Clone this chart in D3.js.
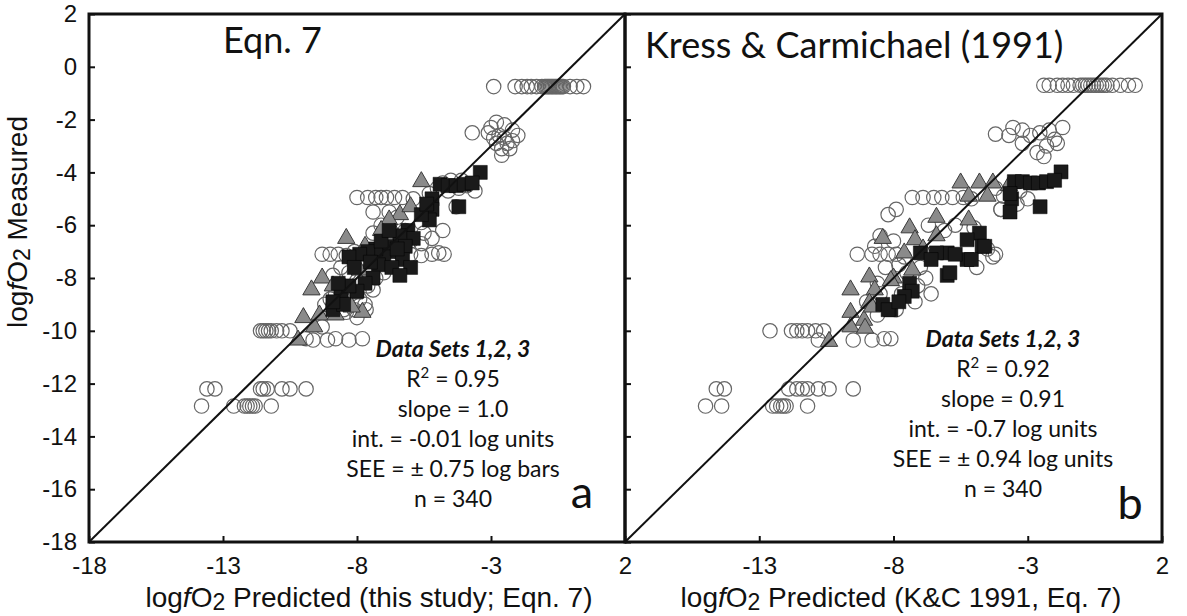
<!DOCTYPE html>
<html>
<head>
<meta charset="utf-8">
<script src="https://cdn.jsdelivr.net/npm/d3@7"></script>
<style>
  body { margin: 0; background: #fff; }
  svg { display: block; }
</style>
</head>
<body>
<svg id="chart" width="1187" height="616"></svg>
<script>

// ---- data: [predicted, measured] (log fO2) ----
const ticksY = [-18, -16, -14, -12, -10, -8, -6, -4, -2, 0, 2];

const circlesA = [
  [-2.9,-0.75],[-2.1,-0.75],[-1.85,-0.75],[-1.65,-0.75],[-1.5,-0.75],[-1.3,-0.75],[-1.1,-0.75],
  [-1.0,-0.75],[-0.95,-0.75],[-0.9,-0.75],[-0.85,-0.75],[-0.8,-0.75],[-0.75,-0.75],[-0.7,-0.75],
  [-0.65,-0.75],[-0.6,-0.75],[-0.55,-0.75],[-0.5,-0.75],[-0.45,-0.75],[-0.4,-0.75],[-0.35,-0.75],
  [-0.3,-0.75],[-0.05,-0.75],[0.2,-0.75],[0.45,-0.75],
  [-3.7,-2.5],[-3.0,-2.3],[-2.8,-2.1],[-2.5,-2.2],[-2.2,-2.4],[-2.0,-2.6],[-2.7,-2.6],[-2.5,-2.7],
  [-2.8,-2.9],[-2.4,-2.9],[-2.6,-3.1],[-2.3,-3.1],[-2.6,-3.35],[-2.9,-2.7],[-2.2,-2.8],[-3.1,-2.5],
  [-4.8,-4.4],[-4.5,-4.3],[-4.2,-4.6],[-3.9,-4.5],[-3.6,-4.7],[-4.6,-4.7],[-5.0,-4.6],[-4.3,-5.3],
  [-5.3,-4.8],[-4.1,-4.3],
  [-8.0,-4.95],[-7.6,-4.95],[-7.3,-4.95],[-7.1,-4.95],[-6.9,-4.95],[-6.6,-4.95],[-6.3,-4.95],[-5.9,-5.0],
  [-7.4,-5.5],[-7.1,-6.0],[-6.5,-5.7],[-7.4,-6.3],[-6.8,-5.5],[-6.2,-6.2],[-5.6,-5.9],[-6.9,-6.5],
  [-6.0,-6.6],[-5.5,-6.3],[-4.8,-6.2],[-5.2,-6.5],[-4.95,-7.05],[-5.6,-6.7],
  [-9.3,-7.1],[-9.0,-7.1],[-8.7,-7.1],[-8.4,-7.15],[-8.1,-7.0],[-6.0,-7.1],[-5.6,-7.15],[-5.2,-7.1],[-4.75,-7.1],
  [-8.6,-7.6],[-8.3,-7.8],[-8.9,-7.9],[-8.0,-8.1],[-7.6,-8.3],[-7.4,-8.45],[-7.3,-8.0],[-8.2,-8.6],
  [-8.5,-8.4],[-8.8,-8.6],[-7.9,-8.8],[-8.0,-9.5],[-8.4,-9.3],[-7.7,-9.0],[-9.0,-8.8],[-7.0,-7.8],
  [-6.8,-7.4],[-7.5,-7.6],[-9.2,-9.0],
  [-8.5,-9.2],[-8.1,-9.2],[-7.66,-9.2],
  [-11.6,-10.0],[-11.5,-10.0],[-11.4,-10.0],[-11.3,-10.0],[-11.2,-10.0],[-11.0,-10.0],[-10.8,-10.0],
  [-10.5,-10.0],[-9.9,-10.3],[-9.64,-10.35],[-9.1,-10.35],[-8.8,-10.3],[-8.3,-10.35],[-7.8,-10.3],[-9.3,-9.85],
  [-13.6,-12.2],[-13.3,-12.2],[-11.6,-12.2],[-11.5,-12.2],[-11.35,-12.2],[-10.8,-12.2],[-10.5,-12.2],[-9.9,-12.2],
  [-13.8,-12.85],[-12.6,-12.85],[-12.2,-12.85],[-12.1,-12.85],[-12.0,-12.85],[-11.9,-12.85],[-11.8,-12.85],[-11.2,-12.85]
];

const trianglesA = [
  [-5.6,-4.35],[-6.4,-5.6],[-6.8,-5.8],[-7.1,-6.2],[-8.4,-6.5],[-7.7,-6.8],[-6.0,-5.3],[-7.9,-7.7],
  [-9.3,-8.0],[-8.9,-8.3],[-9.7,-8.45],[-8.1,-8.6],[-8.5,-8.8],[-10.0,-9.5],[-9.6,-9.85],[-7.8,-9.3],
  [-8.2,-9.1],[-10.2,-10.35],[-9.4,-9.4],[-8.8,-9.4],[-6.6,-6.3],[-7.3,-7.4]
];

const squaresA = [
  [-3.4,-4.0],[-4.9,-4.45],[-4.6,-4.5],[-4.3,-4.5],[-4.0,-4.45],[-3.7,-4.4],[-4.2,-5.3],[-5.2,-5.0],
  [-5.2,-5.4],[-5.3,-5.8],[-6.1,-6.2],[-5.9,-6.5],[-6.4,-6.4],[-6.2,-6.8],[-6.6,-7.0],[-6.9,-6.8],
  [-6.3,-7.3],[-6.0,-7.6],[-7.0,-7.2],[-7.3,-6.9],[-7.6,-7.0],[-7.9,-7.1],[-8.3,-7.2],[-7.2,-7.5],
  [-6.7,-7.6],[-7.4,-8.0],[-7.7,-8.2],[-8.0,-8.5],[-8.6,-8.7],[-8.9,-9.2],[-8.5,-9.0],[-8.9,-8.9],
  [-8.3,-8.3],[-6.4,-7.9],[-7.1,-6.6],[-6.8,-6.2],[-7.5,-7.4],[-8.1,-7.6],[-8.7,-8.2],[-6.5,-6.9],
  [-5.6,-5.6],[-5.4,-5.2]
];

const circlesB = [
  [-2.4,-0.7],[-2.2,-0.7],[-1.9,-0.7],[-1.7,-0.7],[-1.5,-0.7],[-1.3,-0.7],[-1.05,-0.7],[-0.95,-0.7],
  [-0.85,-0.7],[-0.75,-0.7],[-0.65,-0.7],[-0.55,-0.7],[-0.45,-0.7],[-0.35,-0.7],[-0.25,-0.7],[-0.15,-0.7],
  [-0.05,-0.7],[0.15,-0.7],[0.45,-0.7],[0.75,-0.7],[1.0,-0.7],
  [-4.2,-2.55],[-3.55,-2.3],[-3.2,-2.4],[-2.55,-2.5],[-2.2,-2.4],[-1.7,-2.3],[-3.2,-2.9],[-2.3,-3.0],
  [-2.65,-3.25],[-2.0,-2.75],[-2.9,-2.6],[-2.4,-3.4],[-1.9,-2.9],[-3.7,-2.6],
  [-4.2,-4.6],[-3.9,-4.9],[-3.4,-5.2],[-3.3,-4.7],[-4.0,-5.4],[-3.0,-5.0],
  [-7.3,-4.95],[-6.9,-4.95],[-6.5,-4.95],[-6.2,-4.95],[-5.8,-4.95],[-5.4,-4.95],[-5.1,-5.0],
  [-7.9,-5.4],[-8.2,-5.6],[-4.0,-5.4],[-4.5,-6.9],[-4.3,-7.2],[-5.0,-6.1],[-4.9,-7.6],[-5.7,-6.0],
  [-6.1,-6.2],[-6.7,-6.0],
  [-9.35,-7.1],[-8.8,-7.1],[-8.5,-7.1],[-8.2,-7.1],[-7.9,-7.1],[-7.6,-7.2],[-6.6,-7.1],[-4.2,-7.1],
  [-8.5,-6.4],[-8.7,-6.8],[-8.0,-6.6],[-8.3,-7.6],[-7.8,-7.5],[-7.5,-7.8],[-8.6,-8.2],[-7.1,-8.3],
  [-7.0,-7.6],[-7.7,-8.6],[-8.5,-8.6],[-7.2,-8.9],[-6.8,-8.0],[-7.9,-9.2],[-6.6,-8.6],[-9.0,-8.9],[-8.6,-9.4],
  [-12.6,-10.0],[-11.8,-10.0],[-11.6,-10.0],[-11.4,-10.0],[-11.2,-10.0],[-10.9,-10.0],[-10.6,-10.0],
  [-10.8,-10.35],[-9.5,-10.35],[-8.8,-10.35],[-8.35,-10.3],[-8.1,-10.3],
  [-14.6,-12.2],[-14.3,-12.2],[-11.9,-12.2],[-11.6,-12.2],[-11.4,-12.2],[-11.2,-12.2],[-10.8,-12.2],[-10.4,-12.2],[-9.5,-12.2],
  [-15.0,-12.85],[-14.4,-12.85],[-12.5,-12.85],[-12.35,-12.85],[-12.2,-12.85],[-12.1,-12.85],[-12.0,-12.85],[-11.2,-12.85]
];

const trianglesB = [
  [-5.5,-4.4],[-4.8,-4.4],[-4.3,-4.4],[-3.7,-4.5],[-5.2,-4.9],[-4.5,-4.9],[-6.4,-5.7],[-5.2,-5.8],
  [-7.4,-6.1],[-8.4,-6.5],[-7.2,-6.55],[-6.4,-6.4],[-7.6,-7.05],[-7.3,-7.7],[-8.0,-8.0],[-8.9,-7.96],
  [-9.6,-8.45],[-8.7,-8.45],[-8.9,-8.95],[-9.6,-9.3],[-9.1,-9.6],[-9.6,-9.85],[-9.06,-9.9],[-8.8,-9.1],
  [-10.4,-10.4],[-8.1,-8.1],[-6.9,-6.9]
];

const squaresB = [
  [-1.76,-3.98],[-3.5,-4.35],[-3.2,-4.35],[-2.9,-4.4],[-2.6,-4.4],[-2.3,-4.35],[-2.0,-4.3],[-3.6,-5.0],
  [-3.66,-5.5],[-2.54,-5.3],[-3.66,-4.8],[-4.8,-6.3],[-5.26,-6.55],[-4.7,-6.8],[-5.26,-7.3],[-6.0,-7.05],
  [-6.4,-7.05],[-7.0,-7.05],[-6.0,-7.9],[-7.4,-8.2],[-7.3,-8.5],[-8.1,-9.2],[-8.4,-9.0],[-7.6,-8.7],
  [-8.2,-9.2],[-7.8,-8.9],[-5.7,-7.1],[-5.1,-7.3],[-5.9,-7.8],[-4.6,-6.8],[-6.6,-7.3]
];

const statsA = ["R|2| = 0.95", "slope = 1.0", "int. = -0.01 log units", "SEE = \u00b1 0.75 log bars", "n = 340"];
const statsB = ["R|2| = 0.92", "slope = 0.91", "int. = -0.7 log units", "SEE = \u00b1 0.94 log units", "n = 340"];

// ---- layout ----
const svg = d3.select("#chart");
const axisFont = "'Liberation Sans', Arial, sans-serif";
const textFont = "Lato, 'Open Sans', sans-serif";

const y = d3.scaleLinear().domain([-18, 2]).range([542, 14]);

const panels = [
  { x: d3.scaleLinear().domain([-18, 2]).range([89, 625]), circles: circlesA, tris: trianglesA, squares: squaresA,
    title: "Eqn. 7", titleX: 223, titleY: 53, stats: statsA, statX: 453, statY: 357, letter: "a", letterX: 582, letterY: 508,
    xlabel: "Predicted (this study; Eqn. 7)", xlabelX: 369, yLabels: true, xTickLabels: [-18, -13, -8, -3, 2] },
  { x: d3.scaleLinear().domain([-18, 2]).range([625, 1162]), circles: circlesB, tris: trianglesB, squares: squaresB,
    title: "Kress & Carmichael (1991)", titleX: 645, titleY: 58, stats: statsB, statX: 1003, statY: 347, letter: "b", letterX: 1130, letterY: 519,
    xlabel: "Predicted (K&C 1991, Eq. 7)", xlabelX: 901, yLabels: false, xTickLabels: [-13, -8, -3, 2] }
];

function drawPanel(p) {
  let g = svg.append("g");
  let x = p.x;

  // markers
  g.append("g").selectAll("circle")
    .data(p.circles).enter()
    .append("circle")
    .attr("cx", d => x(d[0]))
    .attr("cy", d => y(d[1]))
    .attr("r", 7.2)
    .attr("fill", "none")
    .attr("stroke", "#666")
    .attr("stroke-width", 1.2);

  g.append("g").selectAll("path")
    .data(p.tris).enter()
    .append("path")
    .attr("d", d3.symbol(d3.symbolTriangle, 130))
    .attr("transform", d => `translate(${x(d[0])},${y(d[1])})`)
    .attr("fill", "#8a8a8a")
    .attr("stroke", "#3a3a3a")
    .attr("stroke-width", 1);

  g.append("g").selectAll("path")
    .data(p.squares).enter()
    .append("path")
    .attr("d", d3.symbol(d3.symbolSquare, 196))
    .attr("transform", d => `translate(${x(d[0])},${y(d[1])})`)
    .attr("fill", "#1a1a1a")
    .attr("stroke", "#000")
    .attr("stroke-width", 0.5);

  // 1:1 line
  g.append("line")
    .attr("x1", x(-18)).attr("y1", y(-18))
    .attr("x2", x(2)).attr("y2", y(2))
    .attr("stroke", "#111").attr("stroke-width", 2);

  // axes (ticks inward)
  let xAxis = d3.axisBottom(x).tickValues(p.xTickLabels).tickSizeInner(-6).tickSizeOuter(0).tickPadding(15)
    .tickFormat(d3.format("d"));
  let gx = g.append("g")
    .attr("transform", `translate(0,${y(-18)})`)
    .call(xAxis);
  gx.select(".domain").remove();
  gx.selectAll("text").style("font-family", axisFont).style("font-size", "24px").attr("fill", "#111")
    .text(d => String(d));
  gx.selectAll("line").attr("stroke", "#111").attr("stroke-width", 2);

  let yAxis = d3.axisLeft(y).tickValues(ticksY).tickSizeInner(-6).tickSizeOuter(0).tickPadding(12)
    .tickFormat(p.yLabels ? d3.format("d") : "");
  let gy = g.append("g")
    .attr("transform", `translate(${x(-18)},0)`)
    .call(yAxis);
  gy.select(".domain").remove();
  gy.selectAll("text").style("font-family", axisFont).style("font-size", "24px").attr("fill", "#111")
    .text(d => p.yLabels ? String(d) : "");
  gy.selectAll("line").attr("stroke", "#111").attr("stroke-width", 2);

  // frame
  g.append("rect")
    .attr("x", x(-18)).attr("y", y(2))
    .attr("width", x(2) - x(-18)).attr("height", y(-18) - y(2))
    .attr("fill", "none").attr("stroke", "#111").attr("stroke-width", 3);

  // title
  g.append("text")
    .attr("x", p.titleX).attr("y", p.titleY)
    .style("font-family", textFont).style("font-size", "36px").attr("fill", "#111")
    .text(p.title);

  // stats block
  let st = g.append("g").style("font-family", textFont).attr("fill", "#111").attr("text-anchor", "middle");
  st.append("text")
    .attr("x", p.statX).attr("y", p.statY)
    .style("font-size", "23px").style("font-weight", "bold").style("font-style", "italic")
    .text("Data Sets 1,2, 3");
  p.stats.forEach((s, i) => {
    let t = st.append("text")
      .attr("x", p.statX).attr("y", p.statY + 30 * (i + 1))
      .style("font-size", "23px");
    let parts = s.split("|");
    if (parts.length === 3) {
      t.append("tspan").text(parts[0]);
      t.append("tspan").attr("dy", -9).style("font-size", "15px").text(parts[1]);
      t.append("tspan").attr("dy", 9).text(parts[2]);
    } else {
      t.text(s);
    }
  });

  // panel letter
  g.append("text")
    .attr("x", p.letterX).attr("y", p.letterY)
    .attr("text-anchor", "middle")
    .style("font-family", textFont).style("font-size", "45px").attr("fill", "#111")
    .text(p.letter);

  // x axis title
  let xt = g.append("text")
    .attr("x", p.xlabelX).attr("y", 607)
    .attr("text-anchor", "middle")
    .style("font-family", axisFont).style("font-size", "28px").attr("fill", "#111");
  xt.append("tspan").text("log");
  xt.append("tspan").style("font-style", "italic").text("f");
  xt.append("tspan").text("O");
  xt.append("tspan").attr("dy", 3).style("font-size", "23px").text("2");
  xt.append("tspan").attr("dy", -3).text(" " + p.xlabel);
}

panels.forEach(drawPanel);

// y axis title
let yt = svg.append("text")
  .attr("transform", "translate(27,222) rotate(-90)")
  .attr("text-anchor", "middle")
  .style("font-family", axisFont).style("font-size", "28px").attr("fill", "#111");
yt.append("tspan").text("log");
yt.append("tspan").style("font-style", "italic").text("f");
yt.append("tspan").text("O");
yt.append("tspan").attr("dy", 3).style("font-size", "23px").text("2");
yt.append("tspan").attr("dy", -3).text(" Measured");

</script>
</body>
</html>
